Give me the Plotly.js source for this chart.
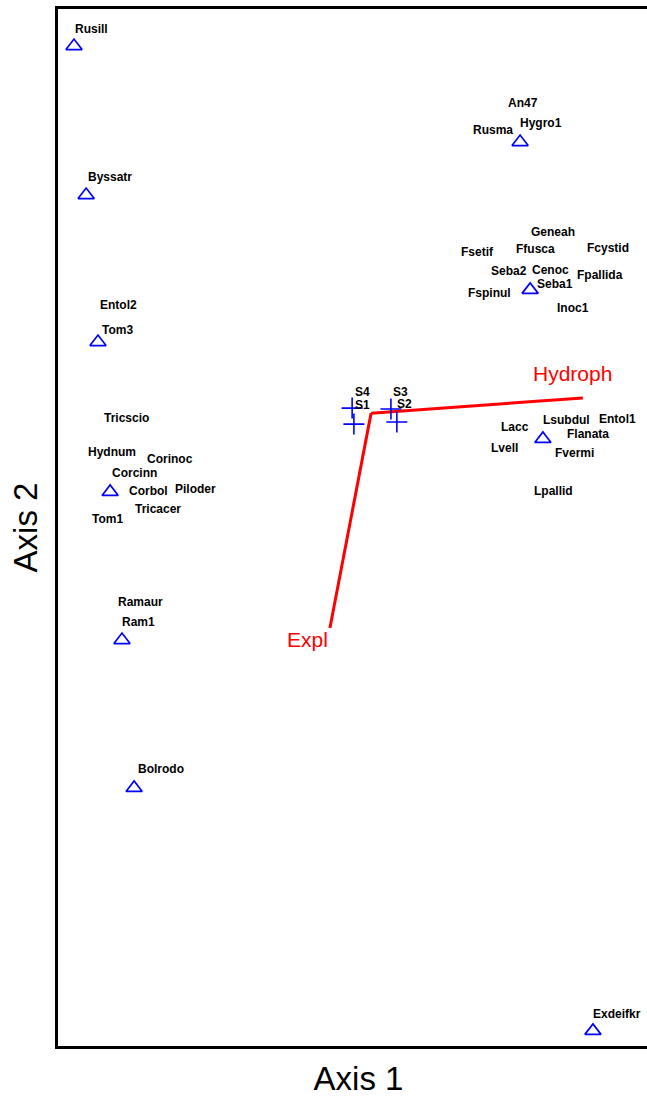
<!DOCTYPE html>
<html>
<head>
<meta charset="utf-8">
<script src="https://cdn.plot.ly/plotly-3.0.1.min.js"></script>
<style>
  html, body { margin: 0; padding: 0; overflow: hidden; background: #ffffff; }
  #chart { width: 680px; height: 1097px; }
</style>
</head>
<body>
<div id="chart"></div>
<script>
// Species scores on ordination axes 1 and 2 (species sharing a point repeat its scores)
const speciesNames = [
  'Rusill', 'Byssatr', 'Entol2', 'Tom3',
  'Tricscio', 'Hydnum', 'Corinoc', 'Corcinn', 'Corbol', 'Piloder', 'Tricacer', 'Tom1',
  'Ramaur', 'Ram1', 'Bolrodo', 'Exdeifkr',
  'An47', 'Hygro1', 'Rusma',
  'Geneah', 'Fsetif', 'Ffusca', 'Fcystid', 'Seba2', 'Cenoc', 'Fpallida', 'Seba1', 'Fspinul', 'Inoc1',
  'Lsubdul', 'Entol1', 'Flanata', 'Lacc', 'Lvell', 'Fvermi', 'Lpallid'
];
const speciesAxis1 = [
  -0.946, -0.905, -0.865, -0.865,
  -0.824, -0.824, -0.824, -0.824, -0.824, -0.824, -0.824, -0.824,
  -0.784, -0.784, -0.743, 0.806,
  0.560, 0.560, 0.560,
  0.594, 0.594, 0.594, 0.594, 0.594, 0.594, 0.594, 0.594, 0.594, 0.594,
  0.637, 0.637, 0.637, 0.637, 0.637, 0.637, 0.637
];
const speciesAxis2 = [
  1.625, 1.122, 0.626, 0.626,
  0.120, 0.120, 0.120, 0.120, 0.120, 0.120, 0.120, 0.120,
  -0.380, -0.380, -0.879, -1.699,
  1.301, 1.301, 1.301,
  0.802, 0.802, 0.802, 0.802, 0.802, 0.802, 0.802, 0.802, 0.802, 0.802,
  0.299, 0.299, 0.299, 0.299, 0.299, 0.299, 0.299
];

// Sample scores
const sampleNames = ['S4', 'S1', 'S3', 'S2'];
const sampleAxis1 = [-0.007, -0.001, 0.124, 0.144];
const sampleAxis2 = [0.403, 0.349, 0.400, 0.356];

// Joint-plot vectors for the environmental variables
const vectorNames = ['Hydroph', 'Expl'];
const vectorOriginAxis1 = 0.057;
const vectorOriginAxis2 = 0.386;
const vectorEndAxis1 = [0.772, -0.082];
const vectorEndAxis2 = [0.437, -0.339];

// Label placement around crowded points, in screen pixels [right, down]
const speciesLabelShift = [
  [17, -17], [24, -18], [21, -37], [20, -12],
  [16, -74], [2, -40], [60, -33], [24, -19], [38, -1], [85, -3], [48, 17], [-3, 27],
  [19, -38], [17, -18], [27, -19], [24, -17],
  [3, -39], [21, -19], [-27, -12],
  [23, -58], [-53, -38], [5, -41], [78, -42], [-21, -19], [20, -20], [70, -15], [25, -6], [-41, 3], [43, 18],
  [24, -19], [75, -20], [45, -5], [-28, -12], [-38, 9], [32, 14], [11, 52]
];
const sampleLabelShift = [[10, -16], [9, -19], [10, -17], [8, -18]];
const vectorLabelShift = [[-10, -25], [-22, 12]];

const labelFont = { family: 'Liberation Sans, Arial, sans-serif', size: 12, color: '#000000', weight: 'bold' };
const vectorFont = { family: 'Liberation Sans, Arial, sans-serif', size: 21, color: '#ff0000' };
const titleFont = { family: 'Liberation Sans Narrow, Liberation Sans, Arial, sans-serif', size: 33, color: '#000000' };

// One triangle per distinct species position, so coincident species do not
// stack their outlines into a heavier stroke
const pointX = [], pointY = [], pointText = [];
const seen = {};
speciesNames.forEach(function (name, i) {
  const key = speciesAxis1[i] + ',' + speciesAxis2[i];
  if (seen[key] === undefined) {
    seen[key] = pointX.length;
    pointX.push(speciesAxis1[i]);
    pointY.push(speciesAxis2[i]);
    pointText.push(name);
  } else {
    pointText[seen[key]] += ', ' + name;
  }
});

const traces = [];

// Vectors drawn first so the markers sit on top
vectorNames.forEach(function (name, i) {
  traces.push({
    type: 'scatter', mode: 'lines', name: name,
    x: [vectorOriginAxis1, vectorEndAxis1[i]],
    y: [vectorOriginAxis2, vectorEndAxis2[i]],
    line: { color: '#ff0000', width: 3 },
    hoverinfo: 'skip'
  });
});

traces.push({
  type: 'scatter', mode: 'markers', name: 'Species',
  x: pointX, y: pointY, text: pointText,
  marker: { symbol: 'triangle-up-open', size: 14, color: '#0000ff', line: { width: 1.7, color: '#0000ff' } }
});

traces.push({
  type: 'scatter', mode: 'markers', name: 'Samples',
  x: sampleAxis1, y: sampleAxis2, text: sampleNames,
  marker: { symbol: 'cross-thin-open', size: 15, color: '#0000ff', line: { width: 1.6, color: '#0000ff' } }
});

const annotations = [];
speciesNames.forEach(function (name, i) {
  annotations.push({
    x: speciesAxis1[i], y: speciesAxis2[i], xref: 'x', yref: 'y',
    text: name, showarrow: false, font: labelFont,
    xshift: speciesLabelShift[i][0], yshift: -speciesLabelShift[i][1]
  });
});
sampleNames.forEach(function (name, i) {
  annotations.push({
    x: sampleAxis1[i], y: sampleAxis2[i], xref: 'x', yref: 'y',
    text: name, showarrow: false, font: labelFont,
    xshift: sampleLabelShift[i][0], yshift: -sampleLabelShift[i][1]
  });
});
vectorNames.forEach(function (name, i) {
  annotations.push({
    x: vectorEndAxis1[i], y: vectorEndAxis2[i], xref: 'x', yref: 'y',
    text: name, showarrow: false, font: vectorFont,
    xshift: vectorLabelShift[i][0], yshift: -vectorLabelShift[i][1]
  });
});

const axisCommon = {
  showgrid: false, zeroline: false, showticklabels: false, ticks: '',
  showline: true, linewidth: 3, linecolor: '#000000',
  automargin: false, fixedrange: true
};

const layout = {
  width: 680, height: 1097,
  margin: { l: 58, r: 21, t: 9, b: 51 },
  paper_bgcolor: '#ffffff', plot_bgcolor: '#ffffff',
  showlegend: false,
  // frame: bottom and top from the x axis, left from the y axis
  xaxis: Object.assign({}, axisCommon, {
    mirror: true,
    range: [-1, 1.029],
    title: { text: 'Axis 1', font: titleFont, standoff: 21 }
  }),
  yaxis: Object.assign({}, axisCommon, {
    mirror: false,
    range: [-1.75, 1.75],
    title: { text: 'Axis 2', font: titleFont, standoff: 8 }
  }),
  annotations: annotations
};

Plotly.newPlot('chart', traces, layout, { staticPlot: true, displayModeBar: false });
</script>
</body>
</html>
